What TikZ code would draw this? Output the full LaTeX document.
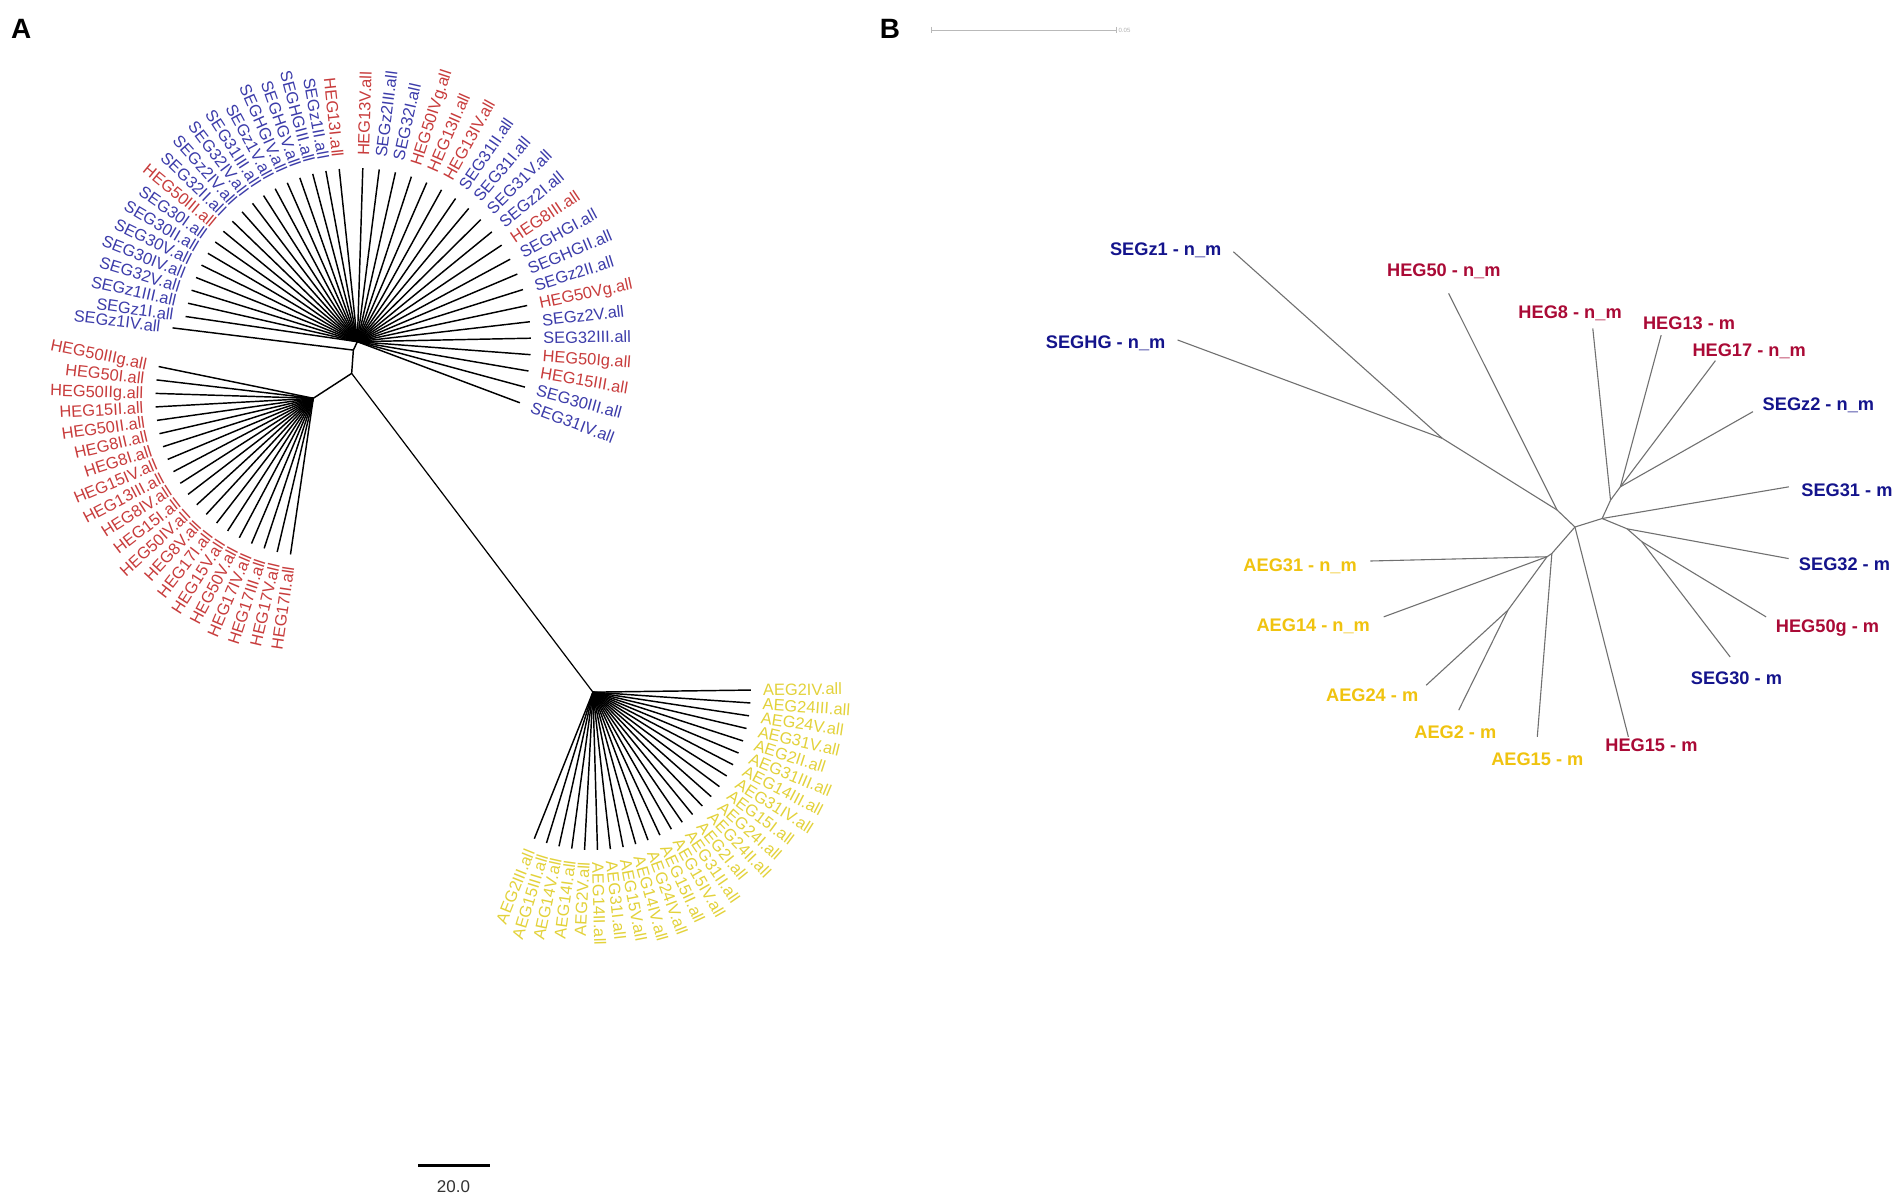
\documentclass[tikz,border=0pt]{standalone}
\usepackage{fontspec}
\setmainfont{Liberation Sans}
\usetikzlibrary{calc}
\definecolor{ablue}{HTML}{3C3CAA}
\definecolor{ared}{HTML}{C83C3C}
\definecolor{ayel}{HTML}{E3D23A}
\definecolor{bnavy}{HTML}{14148C}
\definecolor{bred}{HTML}{AA0A36}
\definecolor{bgold}{HTML}{F0C30F}
\definecolor{bgray}{HTML}{707070}
\definecolor{sbgray}{HTML}{333333}
\newcommand\phyleaf[6]{%
  \coordinate (#2) at ($(#1)+({#4*cos(#3)},{-#4*sin(#3)})$);
  \draw[br] (#1) -- (#2);
  \coordinate (#2-t) at ($(#1)+({(#4+10)*cos(#3)},{-(#4+10)*sin(#3)})$);
  \pgfmathsetmacro\phyan{mod(#3+720,360)}%
  \pgfmathtruncatemacro\phyfl{and(\phyan>90,\phyan<270)}%
  \ifnum\phyfl=1
    \node[lab,text=#6,rotate=#3+180,anchor=east] (#2-n) at (#2-t) {#5};
  \else
    \node[lab,text=#6,rotate=#3,anchor=west] (#2-n) at (#2-t) {#5};
  \fi
}
\begin{document}
\begin{tikzpicture}[x=1pt,y=-1pt,
  lab/.style={inner sep=0pt, font=\fontsize{13.5}{14}\selectfont, text height=9.6pt, text depth=0pt},
  blab/.style={inner sep=0pt, font=\fontsize{15}{16}\selectfont\bfseries, anchor=base},
  br/.style={line width=1.2pt, draw=black},
  bb/.style={line width=0.9pt, draw=bgray},
  panel/.style={font=\fontsize{23}{24}\selectfont\bfseries, inner sep=0pt}
]
\useasboundingbox[fill=white] (0,0) rectangle (1568,988.2);

% ---------------- Panel A ----------------
\node[panel] (labA) at (17.5,24) {A};
\coordinate (C1) at (294.3,281.4);
\coordinate (N1) at (291,288.3);
\coordinate (R) at (289.6,307.5);
\coordinate (H) at (258,328);
\coordinate (A0) at (488.3,570);
\draw[br] (C1) -- (N1) -- (R) -- (H);
\draw[line width=1pt] (R) -- (A0);

\foreach \txt/\col [count=\i] in {SEG31IV/ablue, SEG30III/ablue, HEG15III/ared, HEG50Ig/ared, SEG32III/ablue, SEGz2V/ablue, HEG50Vg/ared, SEGz2II/ablue, SEGHGII/ablue, SEGHGI/ablue, HEG8III/ared, SEGz2I/ablue, SEG31V/ablue, SEG31I/ablue, SEG31II/ablue, HEG13IV/ared, HEG13II/ared, HEG50IVg/ared, SEG32I/ablue, SEGz2III/ablue, HEG13V/ared, HEG13I/ared, SEGz1II/ablue, SEGHGIII/ablue, SEGHGV/ablue, SEGHGIV/ablue, SEGz1V/ablue, SEG31III/ablue, SEG32IV/ablue, SEGz2IV/ablue, SEG32II/ablue, HEG50III/ared, SEG30I/ablue, SEG30II/ablue, SEG30V/ablue, SEG30IV/ablue, SEG32V/ablue, SEGz1III/ablue, SEGz1I/ablue}
{
  \pgfmathsetmacro\a{\i<22 ? -20.6+5.44*(\i-1) : 96+4.45*(\i-22)}
  \phyleaf{C1}{u\i}{\a}{143}{\txt.all}{\col}
}
\phyleaf{N1}{u40}{173}{150}{SEGz1IV.all}{ablue}

\foreach \txt [count=\i] in {HEG50IIIg, HEG50I, HEG50IIg, HEG15II, HEG50II, HEG8II, HEG8I, HEG15IV, HEG13III, HEG8IV, HEG15I, HEG50IV, HEG8V, HEG17I, HEG15V, HEG50V, HEG17IV, HEG17III, HEG17V, HEG17II}
{
  \pgfmathsetmacro\a{168.4+4.91*(\i-1)}
  \phyleaf{H}{h\i}{\a}{130}{\txt.all}{ared}
}

\foreach \txt [count=\i] in {AEG2III, AEG15III, AEG14V, AEG14I, AEG2V, AEG14II, AEG31I, AEG15V, AEG14IV, AEG24IV, AEG15II, AEG15IV, AEG31II, AEG2I, AEG24II, AEG24I, AEG15I, AEG31IV, AEG14III, AEG31III, AEG2II, AEG31V, AEG24V, AEG24III, AEG2IV}
{
  \pgfmathsetmacro\a{248.2+4.69*(\i-1)}
  \phyleaf{A0}{y\i}{\a}{130}{\txt.all}{ayel}
}

% scale bar A
\coordinate (sa1) at (344.6,959.7);
\coordinate (sa2) at (403.6,959.7);
\draw[line width=2.7pt] (sa1) -- (sa2);
\node[inner sep=0pt, font=\fontsize{14}{15}\selectfont, text=sbgray] (sal) at (373.4,977.5) {20.0};

% ---------------- Panel B ----------------
\node[panel] (labB) at (733,24) {B};
\coordinate (sb1) at (767,24.7);
\coordinate (sb2) at (919.8,24.7);
\draw[gray!55, line width=0.8pt] (sb1) -- (sb2);
\draw[gray!55, line width=0.8pt] ($(sb1)+(0,-2.5)$) -- ($(sb1)+(0,2.5)$);
\draw[gray!55, line width=0.8pt] ($(sb2)+(0,-2.5)$) -- ($(sb2)+(0,2.5)$);
\node[inner sep=0pt, anchor=west, font=\fontsize{5}{6}\selectfont, text=gray!60] (sbl) at (921,25.3) {0.05};

% internal nodes
\coordinate (P1) at (1297,434);
\coordinate (P2) at (1319.4,427);
\coordinate (P3) at (1326.3,411.9);
\coordinate (P4) at (1334.4,400.9);
\coordinate (U1) at (1282.3,420);
\coordinate (S1) at (1187.8,361);
\coordinate (Q0) at (1278,455.8);
\coordinate (Q1) at (1274,458.5);
\coordinate (Q3) at (1241.8,502.5);
\coordinate (P7) at (1340,435.5);
\coordinate (P8) at (1352,446);
% leaves
\coordinate (lz1) at (1015.7,207.3);
\coordinate (lhg) at (969.8,280);
\coordinate (l50) at (1193,241.6);
\coordinate (l8) at (1311.7,270.4);
\coordinate (l13) at (1368,276);
\coordinate (l17) at (1412.7,297);
\coordinate (lz2) at (1443.6,339);
\coordinate (l31) at (1473.2,400.9);
\coordinate (l32) at (1473,460);
\coordinate (l50g) at (1454.4,508);
\coordinate (l30) at (1424.8,541);
\coordinate (l15) at (1341,606.8);
\coordinate (la15) at (1266,606.8);
\coordinate (la2) at (1201.3,584.8);
\coordinate (la24) at (1174.5,564.3);
\coordinate (la14) at (1139.5,508);
\coordinate (la31) at (1128.5,462);

\draw[bb] (S1) -- (lz1);
\draw[bb] (S1) -- (lhg);
\draw[bb] (S1) -- (U1);
\draw[bb] (U1) -- (l50);
\draw[bb] (U1) -- (P1);
\draw[bb] (P1) -- (P2);
\draw[bb] (P2) -- (P3);
\draw[bb] (P3) -- (l8);
\draw[bb] (P3) -- (P4);
\draw[bb] (P4) -- (l13);
\draw[bb] (P4) -- (l17);
\draw[bb] (P4) -- (lz2);
\draw[bb] (P2) -- (l31);
\draw[bb] (P2) -- (P7);
\draw[bb] (P7) -- (l32);
\draw[bb] (P7) -- (P8);
\draw[bb] (P8) -- (l50g);
\draw[bb] (P8) -- (l30);
\draw[bb] (P1) -- (l15);
\draw[bb] (P1) -- (Q0);
\draw[bb] (Q0) -- (la15);
\draw[bb] (Q0) -- (Q1);
\draw[bb] (Q1) -- (la31);
\draw[bb] (Q1) -- (la14);
\draw[bb] (Q1) -- (Q3);
\draw[bb] (Q3) -- (la24);
\draw[bb] (Q3) -- (la2);

% labels B
\node[blab, text=bnavy] (tz1) at (960,210.1) {SEGz1 - n\_m};
\node[blab, text=bnavy] (thg) at (910.5,286.9) {SEGHG - n\_m};
\node[blab, text=bred] (t50) at (1189,227.9) {HEG50 - n\_m};
\node[blab, text=bred] (t8) at (1293,262.2) {HEG8 - n\_m};
\node[blab, text=bred] (t13) at (1391,271.3) {HEG13 - m};
\node[blab, text=bred] (t17) at (1440.5,293.8) {HEG17 - n\_m};
\node[blab, text=bnavy] (tz2) at (1497.5,337.8) {SEGz2 - n\_m};
\node[blab, text=bnavy] (t31) at (1521,409) {SEG31 - m};
\node[blab, text=bnavy] (t32) at (1519,469.5) {SEG32 - m};
\node[blab, text=bred] (t50g) at (1505,520.5) {HEG50g - m};
\node[blab, text=bnavy] (t30) at (1430,563.5) {SEG30 - m};
\node[blab, text=bred] (t15) at (1360,619) {HEG15 - m};
\node[blab, text=bgold] (ta15) at (1266,630.2) {AEG15 - m};
\node[blab, text=bgold] (ta2) at (1198.5,608.2) {AEG2 - m};
\node[blab, text=bgold] (ta24) at (1130,578) {AEG24 - m};
\node[blab, text=bgold] (ta14) at (1081.5,520.3) {AEG14 - n\_m};
\node[blab, text=bgold] (ta31) at (1070.7,470.9) {AEG31 - n\_m};
\end{tikzpicture}
\end{document}
